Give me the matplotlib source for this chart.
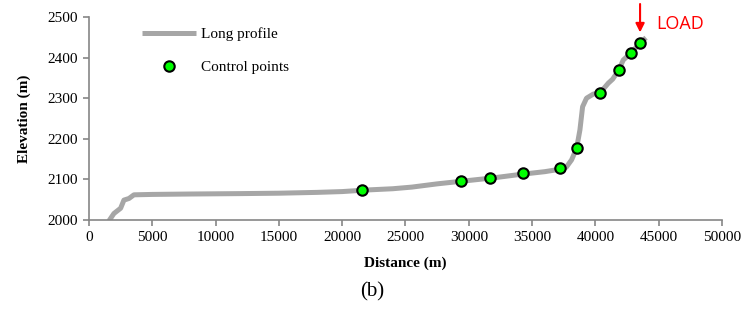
import matplotlib
matplotlib.use("Agg")
import matplotlib.pyplot as plt

# longitudinal profile of the channel (distance in m, elevation in m)
profile_dist = [1580, 1970, 2500, 2760, 3160, 3550, 5000, 8000, 12000, 15000,
                18000, 20000, 21000, 22000, 24000, 25500, 26500, 27500, 29000,
                30500, 32000, 34000, 36000, 37200, 37700, 38120, 38520, 38780,
                38990, 39300, 39830, 40390, 41020, 41370, 41840, 42200, 42840,
                43530, 44000]
profile_elev = [1998, 2016, 2029, 2049, 2053, 2062, 2063, 2064, 2065, 2066,
                2068, 2070, 2072, 2074, 2077, 2081, 2085, 2089, 2094,
                2099, 2104, 2112, 2119, 2125, 2130, 2148, 2177, 2222,
                2279, 2300, 2310, 2314, 2337, 2347, 2369, 2394, 2412,
                2436, 2449]

# control points along the profile
ctrl_dist = [21560, 29350, 31680, 34280, 37200, 38520, 40390, 41840, 42840, 43530]
ctrl_elev = [2074, 2096, 2103, 2115, 2127, 2177, 2314, 2369, 2412, 2436]

load_dist = 43530

serif = "Liberation Serif"

fig = plt.figure(figsize=(7.44, 3.23), dpi=100)
ax = fig.add_axes([0.1196, 0.3189, 0.8508, 0.6285])

ax.plot(profile_dist, profile_elev, color="#A6A6A6", lw=3.6,
        solid_capstyle="butt", label="Long profile", zorder=2)
ax.plot(ctrl_dist, ctrl_elev, ls="none", marker="o", ms=7.5,
        mfc="#00FF00", mec="black", mew=1.5, label="Control points", zorder=3)

ax.set_xlim(0, 50000)
ax.set_ylim(2000, 2500)
ax.set_xticks(range(0, 50001, 5000))
ax.set_yticks(range(2000, 2501, 100))

for s in ["top", "right"]:
    ax.spines[s].set_visible(False)
for s in ["left", "bottom"]:
    ax.spines[s].set_color("#868686")
    ax.spines[s].set_linewidth(1.2)
ax.tick_params(direction="out", length=4, width=1.2, color="#868686",
               labelsize=11, pad=4)
for lab in ax.get_xticklabels() + ax.get_yticklabels():
    lab.set_fontfamily(serif)

ax.set_xlabel("Distance (m)", fontfamily=serif, fontweight="bold",
              fontsize=11, labelpad=9)
ax.set_ylabel("Elevation (m)", fontfamily=serif, fontweight="bold",
              fontsize=11, labelpad=12)

leg = ax.legend(loc="upper left", bbox_to_anchor=(0.1909, 0.915),
                bbox_transform=fig.transFigure, frameon=False,
                borderpad=0, borderaxespad=0, handlelength=3.5,
                handletextpad=0.35, labelspacing=1.25,
                prop={"family": serif, "size": 11})

# load arrow above the last control point
ax.annotate("", xy=(load_dist, 2462), xytext=(load_dist, 2532),
            arrowprops=dict(arrowstyle="-|>", color="red", lw=1.5,
                            mutation_scale=13, shrinkA=0, shrinkB=0),
            annotation_clip=False)
ax.text(44800, 2483, "LOAD", color="red", fontsize=13,
        fontfamily="Open Sans", va="center", ha="left", clip_on=False)

fig.text(0.5, 0.095, "(b)", ha="center", va="center",
         fontfamily=serif, fontsize=15)

fig.savefig("out.png", dpi=100)
